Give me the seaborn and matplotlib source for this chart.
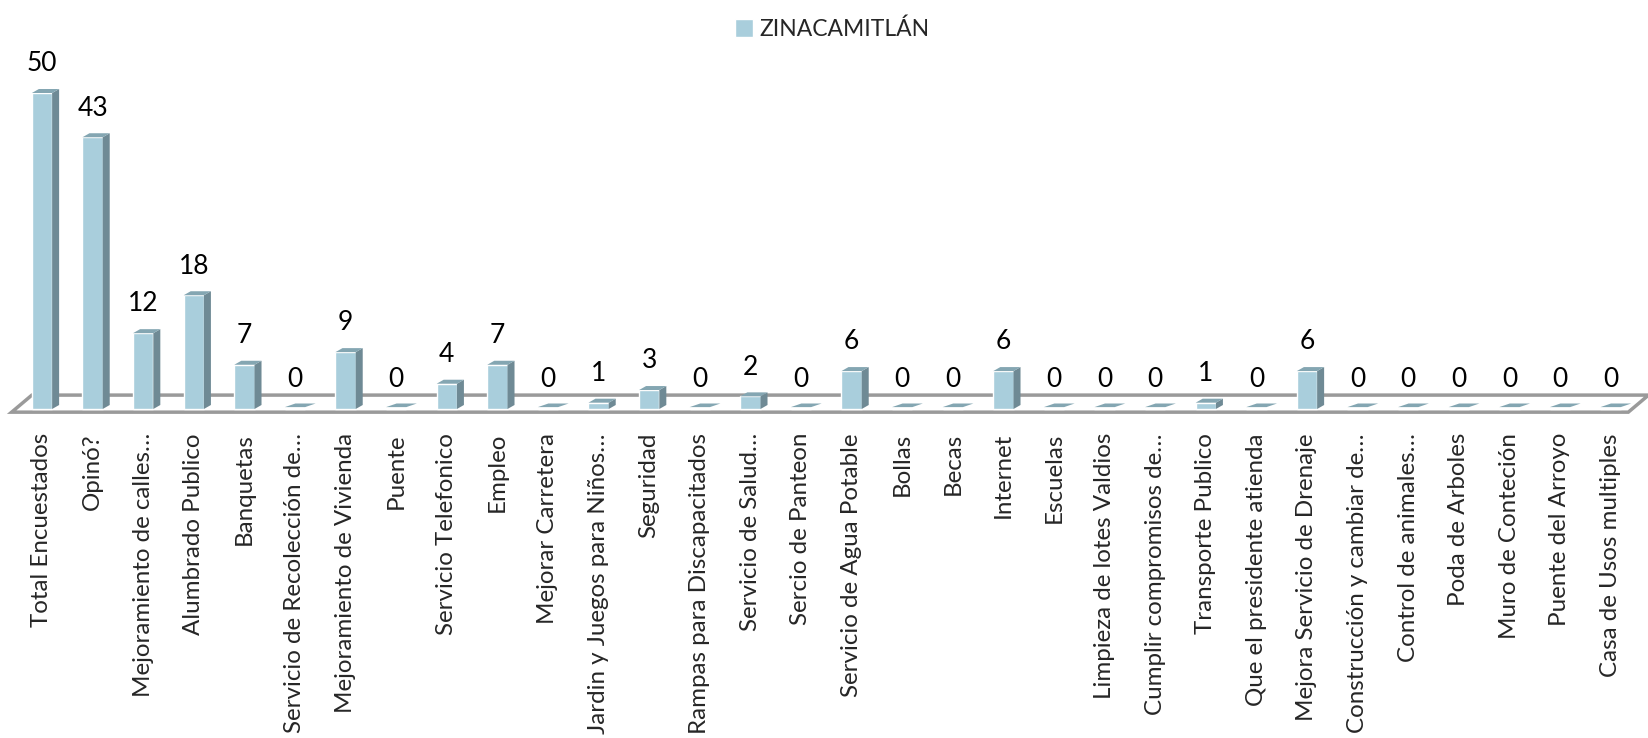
import matplotlib
matplotlib.use("Agg")
import matplotlib.pyplot as plt
import seaborn as sns
from matplotlib.patches import Polygon

# Data
categorias = [
    "Total Encuestados", "Opinó?", "Mejoramiento de calles…", "Alumbrado Publico",
    "Banquetas", "Servicio de Recolección de…", "Mejoramiento de Vivienda", "Puente",
    "Servicio Telefonico", "Empleo", "Mejorar Carretera", "Jardin y Juegos para Niños…",
    "Seguridad", "Rampas para Discapacitados", "Servicio de Salud…", "Sercio de Panteon",
    "Servicio de Agua Potable", "Bollas", "Becas", "Internet", "Escuelas",
    "Limpieza de lotes Valdios", "Cumplir compromisos de…", "Transporte Publico",
    "Que el presidente atienda", "Mejora Servicio de Drenaje", "Construcción y cambiar de…",
    "Control de animales…", "Poda de Arboles", "Muro de Conteción", "Puente del Arroyo",
    "Casa de Usos multiples",
]
valores = [50, 43, 12, 18, 7, 0, 9, 0, 4, 7, 0, 1, 3, 0, 2, 0, 6, 0, 0, 6, 0, 0, 0, 1,
           0, 6, 0, 0, 0, 0, 0, 0]
serie = "ZINACAMITLÁN"

frente = "#A9CEDC"
lado = "#6F8A95"
tapa = "#84A6B2"

sns.set_style("white")
plt.rcParams["font.family"] = ["Lato", "DejaVu Sans"]

fig = plt.figure(figsize=(16.48, 7.38), dpi=100)
ax = fig.add_axes([0, (738 - 415) / 738, 1, 415 / 738])

sns.barplot(x=categorias, y=valores, color=frente, saturation=1, width=0.4,
            ax=ax, zorder=3, label=serie)

# pixel scale -> data offsets for the 3D look
px_x = 50.6
px_y = 6.32
dx = 7 / px_x
dy = 4 / px_y

# floor slab
piso = Polygon([(-0.6, -0.5), (-0.2, 2.2), (31.75, 2.2), (31.35, -0.5)],
               closed=True, facecolor="white", edgecolor="#9a9a9a", lw=2.5,
               zorder=1, clip_on=False)
ax.add_patch(piso)

for p, v in zip(ax.patches[:len(valores)], valores):
    x0 = p.get_x()
    w = p.get_width()
    h = p.get_height()
    if h > 0:
        ax.add_patch(Polygon([(x0 + w, 0), (x0 + w + dx, dy), (x0 + w + dx, h + dy), (x0 + w, h)],
                             closed=True, facecolor=lado, edgecolor="none", zorder=3))
        ax.add_patch(Polygon([(x0, h), (x0 + dx, h + dy), (x0 + w + dx, h + dy), (x0 + w, h)],
                             closed=True, facecolor=tapa, edgecolor="none", zorder=3))
    else:
        ax.add_patch(Polygon([(x0, 0.3), (x0 + 1.5 * dx, 0.3 + 0.9 * dy),
                              (x0 + w + 1.5 * dx, 0.3 + 0.9 * dy), (x0 + w, 0.3)],
                             closed=True, facecolor=tapa, edgecolor="none", zorder=3))
    ax.annotate(f"{v}", (x0 + w / 2, h), xytext=(0, 12), textcoords="offset points",
                ha="center", va="bottom", fontsize=19, color="black")

ax.set_xlim(-42 / px_x, (1648 - 42) / px_x)
ax.set_ylim((409 - 415) / px_y, 409 / px_y)

ax.set_yticks([])
ax.set_ylabel("")
for s in ax.spines.values():
    s.set_visible(False)
ax.tick_params(axis="x", length=0, pad=13)
ax.set_xticks(range(len(categorias)))
ax.set_xticklabels(categorias, rotation=90, fontsize=17.4, va="top", ha="center")

leg = ax.legend(loc="upper center", bbox_to_anchor=(0.505, 1.0), bbox_transform=fig.transFigure,
                frameon=False, fontsize=16.5, handlelength=0.8, handleheight=0.8,
                handletextpad=0.3, borderaxespad=0.4)

fig.savefig("out.png", dpi=100)
